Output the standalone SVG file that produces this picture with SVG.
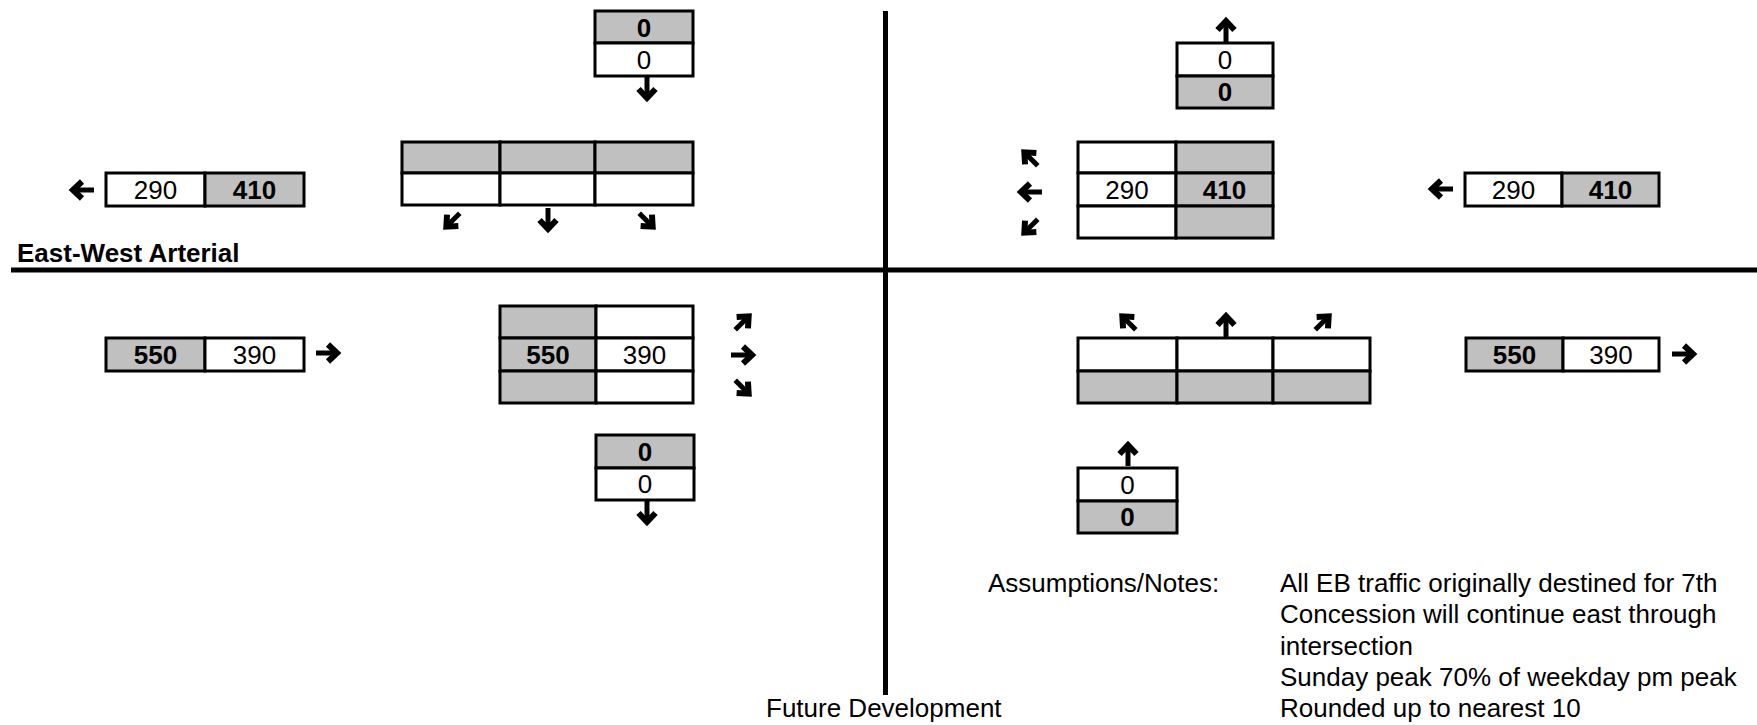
<svg xmlns="http://www.w3.org/2000/svg" xmlns:xlink="http://www.w3.org/1999/xlink" width="1757" height="725" viewBox="0 0 1757 725">
<style>
.w{fill:#fff;stroke:#000;stroke-width:3}
.g{fill:#c0c0c0;stroke:#000;stroke-width:3}
.n{font-family:"Liberation Sans",Arial,sans-serif;font-size:26px;text-anchor:middle;fill:#000}
.b{font-family:"Liberation Sans",Arial,sans-serif;font-size:26px;font-weight:bold;text-anchor:middle;fill:#000}
.t{font-family:"Liberation Sans",Arial,sans-serif;font-size:26px;fill:#000}
.road{stroke:#000;stroke-width:5}
.sh{stroke:#000;fill:none;stroke-width:5}
.hd{stroke:#000;fill:none;stroke-width:6;stroke-linejoin:miter;stroke-miterlimit:10}
</style>
<defs>
<g id="arr">
<path class="sh" d="M0,12 V-7"/>
<path class="hd" d="M-8.5,0 L0,-9 L8.5,0"/>
</g>
<g id="darr">
<path class="sh" d="M0,11 V-6"/>
<path class="hd" d="M-8,1 L0,-8 L8,1"/>
</g>
</defs>

<g id="roads">
<line class="road" x1="885.5" y1="11" x2="885.5" y2="695"/>
<line class="road" x1="11" y1="270" x2="1757" y2="270"/>
</g>

<g id="label-ew"><text class="t" x="17" y="262" font-weight="bold">East-West Arterial</text></g>
<g id="label-future"><text class="t" x="766" y="717">Future Development</text></g>
<g id="notes">
<text class="t" x="988" y="592">Assumptions/Notes:</text>
<text class="t" x="1280" y="592">All EB traffic originally destined for 7th</text>
<text class="t" x="1280" y="623">Concession will continue east through</text>
<text class="t" x="1280" y="655">intersection</text>
<text class="t" x="1280" y="686">Sunday peak 70% of weekday pm peak</text>
<text class="t" x="1280" y="717">Rounded up to nearest 10</text>
</g>

<g id="nw-stack">
<rect class="g" x="595" y="11" width="98" height="32"/>
<rect class="w" x="595" y="43" width="98" height="33"/>
<text class="b" x="644" y="37">0</text>
<text class="n" x="644" y="69">0</text>
</g>

<g id="w-top-box">
<rect class="w" x="106" y="173" width="99" height="33"/>
<rect class="g" x="205" y="173" width="99" height="33"/>
<text class="n" x="155.5" y="199">290</text>
<text class="b" x="254.5" y="199">410</text>
</g>

<g id="sb-table">
<rect class="g" x="402" y="142" width="98" height="31"/>
<rect class="g" x="500" y="142" width="95" height="31"/>
<rect class="g" x="595" y="142" width="98" height="31"/>
<rect class="w" x="402" y="173" width="98" height="32"/>
<rect class="w" x="500" y="173" width="95" height="32"/>
<rect class="w" x="595" y="173" width="98" height="32"/>
</g>

<g id="ne-stack">
<rect class="w" x="1177" y="43" width="96" height="33"/>
<rect class="g" x="1177" y="76" width="96" height="32"/>
<text class="n" x="1225" y="69">0</text>
<text class="b" x="1225" y="101">0</text>
</g>

<g id="wb-table">
<rect class="w" x="1078" y="142" width="98" height="31"/>
<rect class="g" x="1176" y="142" width="97" height="31"/>
<rect class="w" x="1078" y="173" width="98" height="33"/>
<rect class="g" x="1176" y="173" width="97" height="33"/>
<rect class="w" x="1078" y="206" width="98" height="32"/>
<rect class="g" x="1176" y="206" width="97" height="32"/>
<text class="n" x="1127" y="199">290</text>
<text class="b" x="1224.5" y="199">410</text>
</g>

<g id="e-top-box">
<rect class="w" x="1465" y="173" width="97" height="33"/>
<rect class="g" x="1562" y="173" width="97" height="33"/>
<text class="n" x="1513.5" y="199">290</text>
<text class="b" x="1610.5" y="199">410</text>
</g>

<g id="w-bottom-box">
<rect class="g" x="106" y="338" width="99" height="33"/>
<rect class="w" x="205" y="338" width="99" height="33"/>
<text class="b" x="155.5" y="364">550</text>
<text class="n" x="254.5" y="364">390</text>
</g>

<g id="eb-table">
<rect class="g" x="500" y="306" width="96" height="32"/>
<rect class="w" x="596" y="306" width="97" height="32"/>
<rect class="g" x="500" y="338" width="96" height="33"/>
<rect class="w" x="596" y="338" width="97" height="33"/>
<rect class="g" x="500" y="371" width="96" height="32"/>
<rect class="w" x="596" y="371" width="97" height="32"/>
<text class="b" x="548" y="364">550</text>
<text class="n" x="644.5" y="364">390</text>
</g>

<g id="nb-table">
<rect class="w" x="1078" y="338" width="99" height="33"/>
<rect class="w" x="1177" y="338" width="96" height="33"/>
<rect class="w" x="1273" y="338" width="97" height="33"/>
<rect class="g" x="1078" y="371" width="99" height="32"/>
<rect class="g" x="1177" y="371" width="96" height="32"/>
<rect class="g" x="1273" y="371" width="97" height="32"/>
</g>

<g id="e-bottom-box">
<rect class="g" x="1466" y="338" width="97" height="33"/>
<rect class="w" x="1563" y="338" width="96" height="33"/>
<text class="b" x="1514.5" y="364">550</text>
<text class="n" x="1611" y="364">390</text>
</g>

<g id="sw-stack">
<rect class="g" x="596" y="435" width="98" height="33"/>
<rect class="w" x="596" y="468" width="98" height="32"/>
<text class="b" x="645" y="461">0</text>
<text class="n" x="645" y="493">0</text>
</g>

<g id="se-stack">
<rect class="w" x="1078" y="468" width="99" height="33"/>
<rect class="g" x="1078" y="501" width="99" height="32"/>
<text class="n" x="1127.5" y="494">0</text>
<text class="b" x="1127.5" y="526">0</text>
</g>

<g id="connectors">
<use xlink:href="#arr" transform="translate(647,89) rotate(180)"/>
<use xlink:href="#arr" transform="translate(82,190) rotate(270)"/>
<use xlink:href="#darr" transform="translate(452,221) rotate(225)"/>
<use xlink:href="#arr" transform="translate(548,220) rotate(180)"/>
<use xlink:href="#darr" transform="translate(647,221) rotate(135)"/>
<use xlink:href="#arr" transform="translate(1226,30)"/>
<use xlink:href="#darr" transform="translate(1030,158) rotate(315)"/>
<use xlink:href="#arr" transform="translate(1030,192) rotate(270)"/>
<use xlink:href="#darr" transform="translate(1030,227) rotate(225)"/>
<use xlink:href="#arr" transform="translate(1441,189) rotate(270)"/>
<use xlink:href="#arr" transform="translate(328,353) rotate(90)"/>
<use xlink:href="#darr" transform="translate(743,322) rotate(45)"/>
<use xlink:href="#arr" transform="translate(743,355) rotate(90)"/>
<use xlink:href="#darr" transform="translate(743,388) rotate(135)"/>
<use xlink:href="#darr" transform="translate(1128,322) rotate(315)"/>
<use xlink:href="#arr" transform="translate(1226,325)"/>
<use xlink:href="#darr" transform="translate(1323,322) rotate(45)"/>
<use xlink:href="#arr" transform="translate(1684,354) rotate(90)"/>
<use xlink:href="#arr" transform="translate(647,513) rotate(180)"/>
<use xlink:href="#arr" transform="translate(1128,454)"/>
</g>
</svg>
